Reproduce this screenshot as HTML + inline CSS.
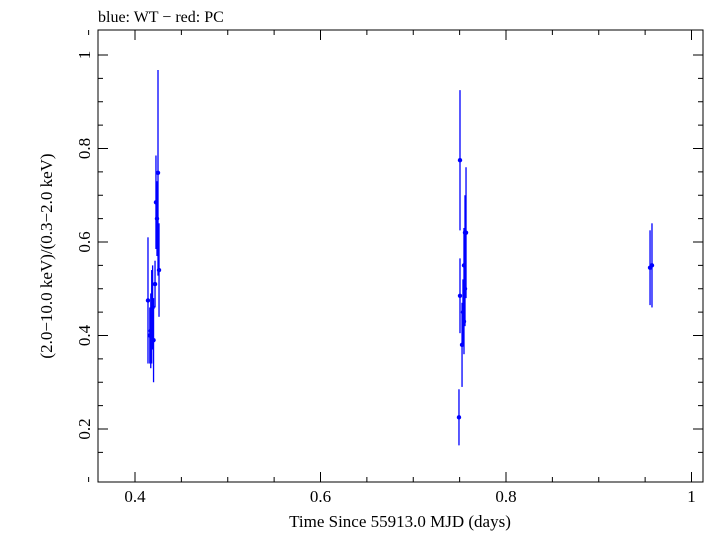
<!DOCTYPE html>
<html><head><meta charset="utf-8"><style>
body{margin:0;background:#fff;}
svg text{font-family:"Liberation Serif",serif;fill:#000;}
</style></head><body>
<svg id="chart" width="707" height="532" xmlns="http://www.w3.org/2000/svg">
<text x="98" y="22" font-size="16">blue: WT − red: PC</text>
<rect x="98" y="30" width="605" height="452" fill="none" stroke="#000" stroke-width="1"/>
<g id="axes"></g>
<g id="marks"></g>
<text x="400" y="527" font-size="17" text-anchor="middle">Time Since 55913.0 MJD (days)</text>
<text transform="translate(52,256) rotate(-90)" font-size="17" text-anchor="middle">(2.0−10.0 keV)/(0.3−2.0 keV)</text>
</svg>
<script>
const times=[0.414,0.416,0.417,0.418,0.419,0.420,0.4216,0.4226,0.4237,0.4248,0.4259,0.7493,0.7504,0.7504,0.7526,0.7536,0.7547,0.7558,0.7569,0.7558,0.7547,0.9553,0.9574];
const ratios=[0.475,0.40,0.41,0.44,0.46,0.39,0.51,0.685,0.65,0.748,0.54,0.225,0.775,0.485,0.38,0.45,0.55,0.62,0.62,0.50,0.43,0.545,0.55];
const errors=[0.135,0.06,0.08,0.1,0.09,0.09,0.05,0.1,0.08,0.22,0.1,0.06,0.15,0.08,0.09,0.07,0.08,0.08,0.14,0.08,0.07,0.08,0.09];
const xTicks=[0.4,0.6,0.8,1];
const yTicks=[0.2,0.4,0.6,0.8,1];
const xs=t=>135+(t-0.4)*927.5;
const ys=v=>429-(v-0.2)*467.5;
const NS="http://www.w3.org/2000/svg";
const axes=document.getElementById('axes'),marks=document.getElementById('marks');
function mk(tag,a,p){const e=document.createElementNS(NS,tag);for(const k in a)e.setAttribute(k,a[k]);p.appendChild(e);return e;}
for(let v=0.35;v<=1.001;v+=0.05){const x=xs(v);const maj=Math.abs(v*5-Math.round(v*5))<1e-6;const L=maj?10:5;
 const l1=mk('line',{x1:x,x2:x,y1:482,y2:482-L,stroke:'#000'},axes);
 
 
 const l2=mk('line',{x1:x,x2:x,y1:30,y2:30+L,stroke:'#000'},axes);
 
 }
for(let v=0.15;v<=1.05;v+=0.05){const y=ys(v);if(y<30||y>482)continue;const maj=Math.abs(v*5-Math.round(v*5))<1e-6;const L=maj?10:5;
 const l1=mk('line',{x1:98,x2:98+L,y1:y,y2:y,stroke:'#000'},axes);
 
 
 const l2=mk('line',{x1:703,x2:703-L,y1:y,y2:y,stroke:'#000'},axes);
 
 }
xTicks.forEach(v=>{const t=mk('text',{x:xs(v),y:502,'font-size':17,'text-anchor':'middle'},axes);t.textContent=String(v);
 
 });
yTicks.forEach(v=>{const t=mk('text',{transform:`translate(90,${ys(v)}) rotate(-90)`,'font-size':17,'text-anchor':'middle'},axes);t.textContent=String(v);
 
 });
times.forEach((t,i)=>{const x=xs(t),y=ys(ratios[i]);
 const e=mk('line',{x1:x,x2:x,y1:ys(ratios[i]+errors[i]),y2:ys(ratios[i]-errors[i]),stroke:'#0000ff','stroke-width':1.3},marks);
 
 
 const c=mk('circle',{cx:x,cy:y,r:2.2,fill:'#0000ff'},marks);
 
 });
</script>
</body></html>
